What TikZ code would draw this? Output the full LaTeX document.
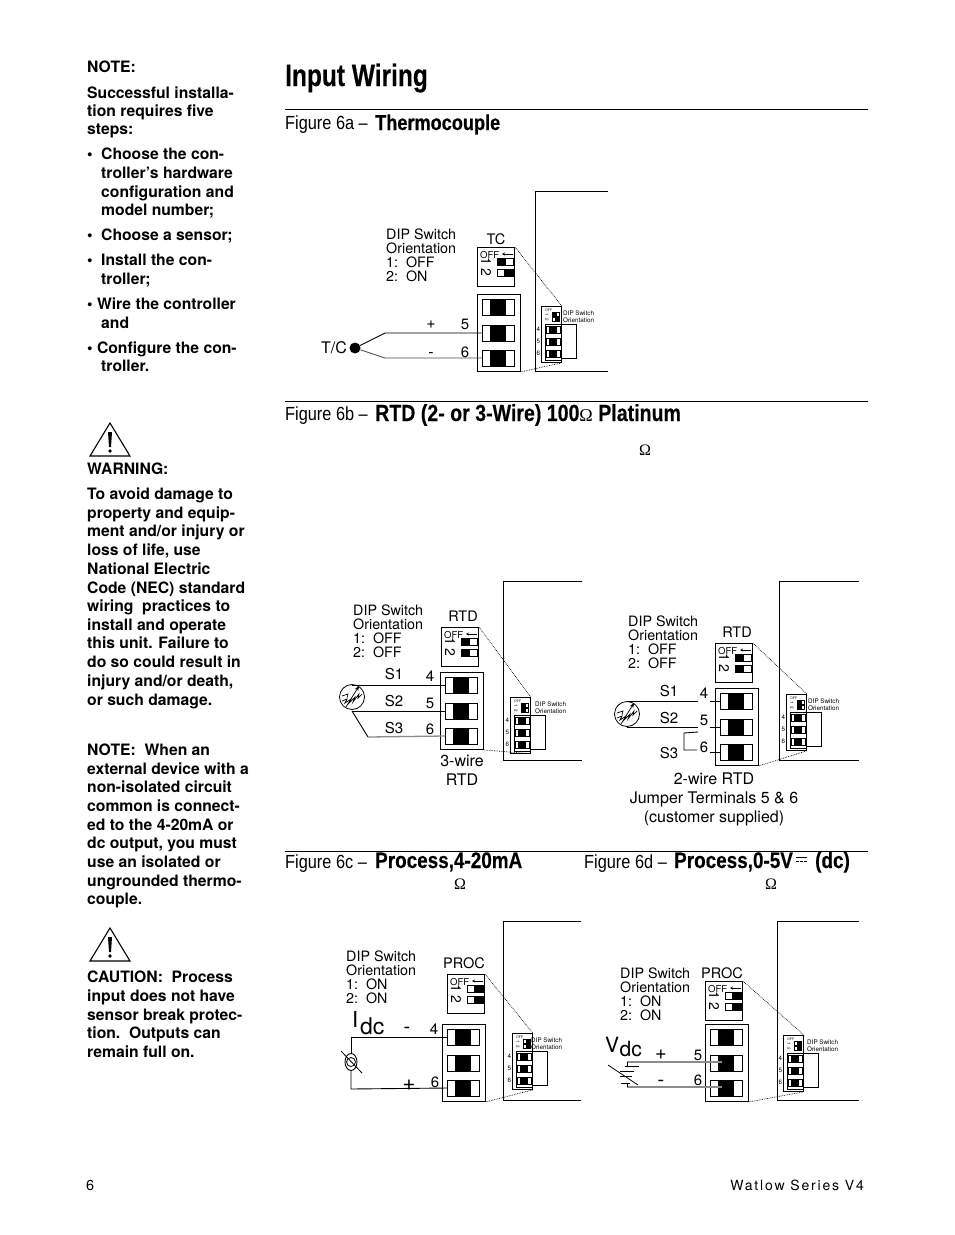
\documentclass[tikz,border=0pt]{standalone}
\usepackage{fontspec}
\usetikzlibrary{arrows.meta,shapes.geometric}
\setmainfont{TeX Gyre Heros}
\newfontfamily\condfont[FakeStretch=0.86]{Liberation Sans}
\newfontfamily\condbold[FakeStretch=0.84,FakeBold=0.3]{Liberation Sans}
\newfontfamily\condtitle[FakeStretch=0.79,FakeBold=0.3]{Liberation Sans}
\newfontfamily\omfont{Liberation Serif}
\newcounter{LN}
\tikzset{
  bt/.style={anchor=base west,inner sep=0pt,font=\fontsize{15.7}{15.7}\selectfont\bfseries},
  lb/.style={anchor=base west,inner sep=0pt,font=\fontsize{14.3}{14.3}\selectfont},
  lc/.style={anchor=base,inner sep=0pt,font=\fontsize{14.5}{14.5}\selectfont},
  ln/.style={anchor=base,inner sep=0pt,font=\fontsize{15}{15}\selectfont},
  lg/.style={anchor=base,inner sep=0pt,font=\fontsize{16}{16}\selectfont},
  tinylab/.style={anchor=base west,inner sep=0pt,font=\fontsize{6.3}{6.3}\selectfont},
  fighead/.style={anchor=base west,inner sep=0pt,font=\fontsize{19}{19}\selectfont\condfont},
  figtitle/.style={anchor=base west,inner sep=0pt,font=\fontsize{22.5}{22.5}\selectfont\condbold\bfseries},
  rulel/.style={line width=.7pt},
  wire/.style={line width=.9pt},
  graywire/.style={line width=1.3pt,color=black!45},
  leader/.style={line width=.7pt,densely dotted},
  boxl/.style={draw,line width=.9pt,inner sep=0pt,anchor=north west},
  chassis/.style={line width=.9pt},
  rtdline/.style={line width=.7pt},
}
\newcommand{\tline}[4][bt]{\stepcounter{LN}\node[#1] (L\theLN) at (#2,#3) {#4};}
\newcommand{\slideswitch}[5]{%
  \draw[line width=.8pt] (#1,#2) rectangle ({#1+#3},{#2+#4});
  \ifnum#5=0 \fill ({#1},{#2}) rectangle ({#1+#3/2+1},{#2+#4});
  \else \fill ({#1+#3/2-1},{#2}) rectangle ({#1+#3},{#2+#4}); \fi}
\newcommand{\termsw}[4]{%
  \draw[line width=.8pt] (#1,#2) rectangle ({#1+#3},{#2+#4});
  \fill ({#1+#3/4},{#2}) rectangle ({#1+3*#3/4},{#2+#4});}
\newcommand{\dipbox}[5]{%
  \begin{scope}[shift={(#2,#3)}]
    \node[boxl,minimum width=37pt,minimum height=39pt] (#1) at (0,0) {};
    \node[anchor=base west,inner sep=0pt,font=\fontsize{9.5}{9.5}\selectfont] (#1off) at (3,11) {OFF};
    \draw[line width=.8pt,-{Stealth[length=3pt,width=3pt]}] (36,7) -- (25,7);
    \node[inner sep=0pt,rotate=-90,font=\fontsize{14}{14}\selectfont] (#1one) at (9,14.5) {1};
    \node[inner sep=0pt,rotate=-90,font=\fontsize{14}{14}\selectfont] (#1two) at (9,25) {2};
    \slideswitch{20}{11}{16}{7}{#4}
    \slideswitch{20}{22}{16}{7}{#5}
  \end{scope}}
\newcommand{\termblock}[3]{%
  \begin{scope}[shift={(#2,#3)}]
    \node[boxl,minimum width=43pt,minimum height=77pt] (#1) at (0,0) {};
    \termsw{5}{5}{32}{16}
    \termsw{5}{31}{32}{16}
    \termsw{5}{56}{32}{16}
    \coordinate (#1a) at (5,13);
    \coordinate (#1b) at (5,39);
    \coordinate (#1c) at (5,64);
  \end{scope}}
\newcommand{\smallblock}[6]{%
  \begin{scope}[shift={(#2,#3)}]
    \node[boxl,line width=.8pt,minimum width=20pt,minimum height=56pt] (#1) at (0,0) {};
    \draw[line width=.8pt] (19,18) rectangle (35,52);
    \draw[line width=.8pt,fill=white] (4,18) rectangle (20,54);
    \foreach \r in {20,32,44}{\draw[line width=.6pt] (5,\r) rectangle (19,{\r+7}); \fill (8,\r) rectangle (16,{\r+7});}
    \node[anchor=base west,inner sep=0pt,font=\fontsize{3.5}{3.5}\selectfont] (#1off) at (4,5) {OFF};
    \node[inner sep=0pt,rotate=-90,font=\fontsize{4.5}{4.5}\selectfont] (#1one) at (6,9) {1};
    \node[inner sep=0pt,rotate=-90,font=\fontsize{4.5}{4.5}\selectfont] (#1two) at (6,14) {2};
    \slideswitch{11}{6.5}{7}{3.5}{#5}
    \slideswitch{11}{11.5}{7}{3.5}{#6}
    \node[tinylab] (#1t) at (#4,9) {DIP Switch};
    \node[tinylab] (#1u) at (#4,16.5) {Orientation};
    \node[tinylab] (#1p) at (-4.5,25) {4};
    \node[tinylab] (#1q) at (-4.5,37) {5};
    \node[tinylab] (#1r) at (-4.5,49) {6};
  \end{scope}}
\newcommand{\diptext}[5]{%
  \node[lb] (#1a) at (#2,#3) {DIP Switch};
  \node[lb] (#1b) at (#2,{#3+14}) {Orientation};
  \node[lb] (#1c) at (#2,{#3+28}) {1:\ \ #4};
  \node[lb] (#1d) at (#2,{#3+42}) {2:\ \ #5};}
\newcommand{\rtdsymbol}[3]{%
  \node[circle,draw,line width=.8pt,inner sep=0pt,minimum size=25pt] (#1) at (#2,#3) {};
  \begin{scope}[shift={(#2,#3)}]
    \draw[rtdline] (-10,4) -- (-5,2) -- (-7,6) -- (-1,2) -- (-3,6) -- (3,0) -- (1,5) -- (7,-3) -- (6,1) -- (10,-3);
    \draw[rtdline] (-10,-1) -- (-4,-3) -- (-5,1);
    \draw[rtdline,-{Stealth[length=5pt,width=4pt]}] (-6,10) -- (7,-11);
  \end{scope}}
\begin{document}
\begin{tikzpicture}[x=1pt,y=-1pt,line join=miter]
\useasboundingbox (0,0) rectangle (954,1235);
\fill[white] (0,0) rectangle (954,1235);
\tline{87}{72}{NOTE:}
\tline{87}{98}{Successful installa-}
\tline{87}{116}{tion requires five}
\tline{87}{134}{steps:}
\tline{87}{159}{•}
\tline{101}{159}{Choose the con-}
\tline{101}{178}{troller’s hardware}
\tline{101}{197}{configuration and}
\tline{101}{215}{model number;}
\tline{87}{240}{•}
\tline{101}{240}{Choose a sensor;}
\tline{87}{265}{•}
\tline{101}{265}{Install the con-}
\tline{101}{284}{troller;}
\tline{87}{309}{• Wire the controller}
\tline{101}{328}{and}
\tline{87}{353}{• Configure the con-}
\tline{101}{371}{troller.}
\tline{87}{474}{WARNING:}
\tline{87}{499}{To avoid damage to}
\tline{87}{518}{property and equip-}
\tline{87}{536}{ment and/or injury or}
\tline{87}{555}{loss of life, use}
\tline{87}{574}{National Electric}
\tline{87}{593}{Code (NEC) standard}
\tline{87}{611}{wiring\ \ practices to}
\tline{87}{630}{install and operate}
\tline{87}{648}{this unit. Failure to}
\tline{87}{667}{do so could result in}
\tline{87}{686}{injury and/or death,}
\tline{87}{705}{or such damage.}
\tline{87}{755}{NOTE:\ \ When an}
\tline{87}{774}{external device with a}
\tline{87}{792}{non-isolated circuit}
\tline{87}{811}{common is connect-}
\tline{87}{830}{ed to the 4-20mA or}
\tline{87}{848}{dc output, you must}
\tline{87}{867}{use an isolated or}
\tline{87}{886}{ungrounded thermo-}
\tline{87}{904}{couple.}
\tline{87}{982}{CAUTION:\ \ Process}
\tline{87}{1001}{input does not have}
\tline{87}{1020}{sensor break protec-}
\tline{87}{1038}{tion.\ \ Outputs can}
\tline{87}{1057}{remain full on.}
\foreach \ty in {423,928}{
  \draw[line width=1.1pt,line join=miter] (110,\ty) -- (130,{\ty+33}) -- (90,{\ty+33}) -- cycle;
  \fill (108,{\ty+9}) -- (112,{\ty+9}) -- (111,{\ty+24}) -- (109,{\ty+24}) -- cycle;
  \fill (110,{\ty+28}) circle (1.8);
}
\node[anchor=base west,inner sep=0pt,font=\fontsize{14.5}{14.5}\selectfont] (pageno) at (86,1190) {6};
\node[anchor=base east,inner sep=0pt,font=\fontsize{14}{14}\selectfont\addfontfeature{LetterSpace=13}] (footer) at (864,1190) {Watlow Series V4};
\node[anchor=base west,inner sep=0pt,font=\fontsize{31}{31}\selectfont\condtitle\bfseries] (title) at (285,86) {Input Wiring};
\coordinate (r1a) at (285,109); \coordinate (r1b) at (868,109);
\coordinate (r2a) at (285,401); \coordinate (r2b) at (868,401);
\coordinate (r3a) at (285,851); \coordinate (r3b) at (868,851);
\draw[rulel] (r1a) -- (r1b);
\draw[rulel] (r2a) -- (r2b);
\draw[rulel] (r3a) -- (r3b);
\node[fighead] (h6a) at (285,129) {Figure 6a –};
\node[figtitle,font=\fontsize{21.6}{21.6}\selectfont\condbold\bfseries] (t6a) at (375,130) {Thermocouple};
\node[fighead] (h6b) at (285,420) {Figure 6b –};
\node[figtitle,font=\fontsize{23.3}{23.3}\selectfont\condbold\bfseries] (t6b) at (375,421) {RTD (2- or 3-Wire) 100{\omfont\mdseries\fontsize{18}{18}\selectfont Ω} Platinum};
\node[fighead] (h6c) at (285,868) {Figure 6c –};
\node[figtitle] (t6c) at (375,868) {Process,4-20mA};
\node[fighead] (h6d) at (584,868) {Figure 6d –};
\node[figtitle] (t6d) at (674,868) {Process,0-5V};
\node[figtitle] (t6e) at (815,868) {(dc)};
\draw[line width=1pt] (796,857.5) -- (807,857.5);
\draw[line width=1pt,dash pattern=on 2.5pt off 1.5pt] (796,861) -- (807,861);
\node[anchor=base,inner sep=0pt,font=\fontsize{16}{16}\selectfont\omfont] (om1) at (645,455) {Ω};
\node[anchor=base,inner sep=0pt,font=\fontsize{16}{16}\selectfont\omfont] (om2) at (460,889) {Ω};
\node[anchor=base,inner sep=0pt,font=\fontsize{16}{16}\selectfont\omfont] (om3) at (771,889) {Ω};
% Fig 6a
\draw[chassis] (608,191) -- (535,191) -- (535,371) -- (608,371);
\diptext{a}{386}{239}{OFF}{ON}
\node[lc] (atc) at (496,244) {TC};
\dipbox{adip}{477}{247}{0}{1}
\termblock{atb}{477}{294}
\smallblock{asb}{541}{306}{22}{0}{1}
\draw[leader] (adip.north east) -- (asb.north east);
\draw[leader] (atb.south east) -- (asb.south east);
\node[lg,anchor=base west] (atcl) at (321,353) {T/C};
\node[circle,fill,inner sep=0pt,minimum size=11pt] (tcj) at (355,348) {};
\coordinate (ak1) at (385,333); \coordinate (ak2) at (385,358);
\draw[wire] (tcj) -- (ak1) -- (atbb);
\draw[wire,color=black!70] (tcj) -- (ak2) -- (atbc);
\node[lg] (aplus) at (431,328) {+};
\node[lg] (aminus) at (431,357) {-};
\node[ln] (a5) at (465,329) {5};
\node[ln] (a6) at (465,357) {6};
% Fig 6b left
\draw[chassis] (582,581) -- (503,581) -- (503,760) -- (582,760);
\diptext{b}{353}{615}{OFF}{OFF}
\node[lc] (brtd) at (463,621) {RTD};
\dipbox{bdip}{441}{627}{0}{0}
\termblock{btb}{440}{672}
\smallblock{bsb}{510}{697}{25}{0}{0}
\draw[leader] (bdip.north east) -- (bsb.north east);
\draw[leader] (btb.south east) -- (bsb.south east);
\rtdsymbol{brs}{352}{697}
\coordinate (bw1) at (352,685); \coordinate (bw2) at (352,711); \coordinate (bw3) at (368,737);
\draw[wire] (bw1) -- (btba);
\draw[wire] (bw2) -- (btbb);
\draw[wire] (bw2) -- (bw3);
\draw[graywire] (bw3) -- (btbc);
\node[ln] (bs1) at (394,679) {S1};
\node[ln] (bs2) at (394,706) {S2};
\node[ln] (bs3) at (394,733) {S3};
\node[ln] (b4) at (430,681) {4};
\node[ln] (b5) at (430,708) {5};
\node[ln] (b6) at (430,734) {6};
\node[lg] (b3w) at (462,766) {3-wire};
\node[lg] (brt) at (462,785) {RTD};
% Fig 6b right
\draw[chassis] (859,581) -- (779,581) -- (779,760) -- (859,760);
\diptext{c}{628}{626}{OFF}{OFF}
\node[lc] (crtd) at (737,637) {RTD};
\dipbox{cdip}{715}{643}{0}{0}
\termblock{ctb}{715}{688}
\smallblock{csb}{786}{694}{22}{0}{0}
\draw[leader] (cdip.north east) -- (csb.north east);
\draw[leader] (ctb.south east) -- (csb.south east);
\rtdsymbol{crs}{627}{714}
\coordinate (cw1) at (627,701); \coordinate (cw1e) at (698,701);
\coordinate (cw2) at (627,727); \coordinate (cw2e) at (698,727);
\coordinate (ct4) at (710,701); \coordinate (ct5) at (710,727); \coordinate (ct6) at (710,752);
\coordinate (cj1) at (698,732); \coordinate (cj2) at (684,733); \coordinate (cj3) at (684,750); \coordinate (cj4) at (697,750);
\draw[wire] (cw1) -- (cw1e);
\draw[wire] (cw2) -- (cw2e);
\draw[wire] (ct4) -- (ctba);
\draw[wire] (ct5) -- (ctbb);
\draw[wire] (ct6) -- (ctbc);
\draw[wire] (cj1) -- (cj2) -- (cj3) -- (cj4);
\node[ln] (cs1) at (669,696) {S1};
\node[ln] (cs2) at (669,723) {S2};
\node[ln] (cs3) at (669,758) {S3};
\node[ln] (c4) at (704,698) {4};
\node[ln] (c5) at (704,725) {5};
\node[ln] (c6) at (704,752) {6};
\node[lg] (c2w) at (714,784) {2-wire RTD};
\node[lg] (cjt) at (714,803) {Jumper Terminals 5 \& 6};
\node[lg] (ccs) at (714,822) {(customer supplied)};
% Fig 6c
\draw[chassis] (581,921) -- (503,921) -- (503,1100) -- (581,1100);
\diptext{d}{346}{961}{ON}{ON}
\node[lc] (dproc) at (464,968) {PROC};
\dipbox{ddip}{447}{974}{1}{1}
\termblock{dtb}{442}{1024}
\smallblock{dsb}{512}{1033}{19}{1}{1}
\draw[leader] (ddip.north east) -- (dsb.north east);
\draw[leader] (dtb.south east) -- (dsb.south east);
\node[anchor=base west,inner sep=0pt,font=\fontsize{22}{22}\selectfont] (dI) at (352,1027) {I};
\node[anchor=base west,inner sep=0pt,font=\fontsize{23}{23}\selectfont] (ddc) at (360,1034) {dc};
\node[anchor=base,inner sep=0pt,font=\fontsize{20}{20}\selectfont] (dminus) at (407,1033) {-};
\node[anchor=base,inner sep=0pt,font=\fontsize{22}{22}\selectfont] (dplus) at (409,1090) {+};
\node[ln] (d4) at (434,1034) {4};
\node[ln] (d6) at (435,1087) {6};
\node[ellipse,draw,line width=.9pt,inner sep=0pt,minimum width=12pt,minimum height=17pt] (dsrc) at (351,1062) {};
\node[circle,draw,line width=.8pt,inner sep=0pt,minimum size=9pt] (dsrc2) at (351,1062) {};
\coordinate (ds1) at (341,1051); \coordinate (ds2) at (362,1073);
\draw[line width=.8pt] (ds1) -- (ds2);
\coordinate (dc1) at (351,1037); \coordinate (dc2) at (351,1089);
\draw[wire] (dtba) -- (dc1) -- (dsrc);
\draw[wire] (dtbc) -- (dc2) -- (dsrc);
% Fig 6d
\draw[chassis] (859,921) -- (777,921) -- (777,1100) -- (859,1100);
\diptext{e}{620}{978}{ON}{ON}
\node[lc] (eproc) at (722,978) {PROC};
\dipbox{edip}{705}{981}{1}{1}
\termblock{etb}{705}{1024}
\smallblock{esb}{783}{1035}{24}{1}{1}
\draw[leader] (edip.north east) -- (esb.north east);
\draw[leader] (etb.south east) -- (esb.south east);
\node[anchor=base west,inner sep=0pt,font=\fontsize{21}{21}\selectfont] (eV) at (605,1052) {V};
\node[anchor=base west,inner sep=0pt,font=\fontsize{21}{21}\selectfont] (edc) at (619.5,1056) {dc};
\node[anchor=base,inner sep=0pt,font=\fontsize{20}{20}\selectfont] (eplus) at (661,1059) {+};
\node[anchor=base,inner sep=0pt,font=\fontsize{20}{20}\selectfont] (eminus) at (661,1086) {-};
\node[ln] (e5) at (698,1060) {5};
\node[ln] (e6) at (698,1085) {6};
\coordinate (ew1) at (627,1062); \coordinate (ew2) at (627,1087);
\coordinate (ee1) at (722,1062); \coordinate (ee2) at (722,1087);
\draw[graywire] (ew1) -- (ee1);
\draw[graywire] (ew2) -- (ee2);
\draw[line width=.8pt] (625,1066) -- (639,1066);
\draw[line width=.8pt] (620,1071) -- (634,1071);
\draw[line width=.8pt] (620,1076) -- (632,1076);
\draw[line width=.8pt] (621,1083) -- (630,1083);
\draw[line width=.8pt] (608,1065) -- (638,1085);
\draw[line width=.8pt] (627,1062) -- (627,1066);
\draw[line width=.8pt] (627,1083) -- (627,1087);
\end{tikzpicture}
\end{document}
